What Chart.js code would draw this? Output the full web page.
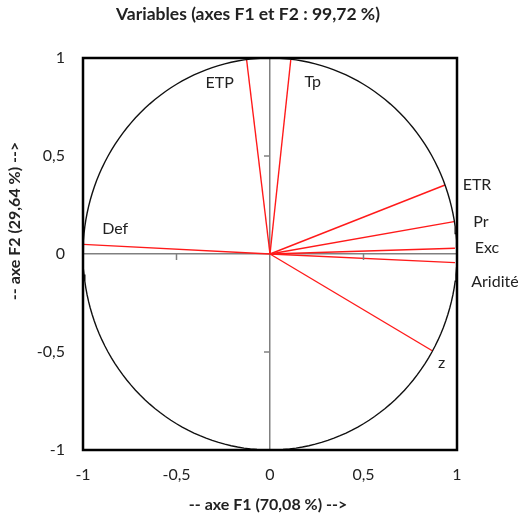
<!DOCTYPE html>
<html>
<head>
<meta charset="utf-8">
<script src="https://cdn.jsdelivr.net/npm/chart.js@4"></script>
<style>
  html, body { margin: 0; padding: 0; background: #fff; }
  #wrap { width: 524px; height: 516px; }
</style>
</head>
<body>
<div id="wrap"><canvas id="cercle"></canvas></div>
<script>
// variables and their coordinates on F1 / F2
var variables = ['ETP', 'Tp', 'ETR', 'Pr', 'Exc', 'Aridité', 'z', 'Def'];
var f1 = [-0.125, 0.111, 0.936, 0.984, 0.989, 0.989, 0.870, -0.999];
var f2 = [0.99, 0.99, 0.352, 0.165, 0.029, -0.044, -0.495, 0.049];
// label offsets (px) from each arrow end
var labelDx = [-27, 22, 32, 27, 32, 40, 9, 32];
var labelDy = [23, 22, 0, 0, 0, 19, 12, -16];
var tickValues = [-1, -0.5, 0, 0.5, 1];

var titre = 'Variables (axes F1 et F2 : 99,72 %)';
var titreX = '-- axe F1 (70,08 %) -->';
var titreY = '-- axe F2 (29,64 %) -->';

var FONT = 'Lato, "Open Sans", sans-serif';

function fmt(v) {
  return String(v).replace('.', ',');
}

// unit circle
var cercle = [];
for (var i = 0; i <= 360; i += 2) {
  var a = i * Math.PI / 180;
  cercle.push({x: Math.cos(a), y: Math.sin(a)});
}

var datasets = [{
  data: cercle,
  borderColor: '#111',
  borderWidth: 1.4,
  pointRadius: 0,
  showLine: true,
  tension: 0
}];
for (var k = 0; k < variables.length; k++) {
  datasets.push({
    data: [{x: 0, y: 0}, {x: f1[k], y: f2[k]}],
    borderColor: '#ff1a1a',
    borderWidth: 1.4,
    pointRadius: 0,
    showLine: true
  });
}

var decor = {
  id: 'decor',
  afterDatasetsDraw: function(chart) {
    var ctx = chart.ctx;
    var xs = chart.scales.x, ys = chart.scales.y;
    var ca = chart.chartArea;
    var x0 = xs.getPixelForValue(0), y0 = ys.getPixelForValue(0);
    ctx.save();
    // small ticks on the zero axes
    ctx.strokeStyle = '#808080';
    ctx.lineWidth = 1.5;
    [-0.5, 0.5].forEach(function(v) {
      var px = xs.getPixelForValue(v);
      ctx.beginPath(); ctx.moveTo(px, y0); ctx.lineTo(px, y0 + 6); ctx.stroke();
      var py = ys.getPixelForValue(v);
      ctx.beginPath(); ctx.moveTo(x0, py); ctx.lineTo(x0 - 6, py); ctx.stroke();
    });
    // frame
    ctx.strokeStyle = '#000';
    ctx.lineWidth = 2.5;
    ctx.strokeRect(ca.left, ca.top, ca.right - ca.left, ca.bottom - ca.top);
    // variable labels
    ctx.fillStyle = '#222';
    ctx.font = '16px ' + FONT;
    ctx.textAlign = 'center';
    ctx.textBaseline = 'middle';
    for (var k = 0; k < variables.length; k++) {
      var px2 = xs.getPixelForValue(f1[k]) + labelDx[k];
      var py2 = ys.getPixelForValue(f2[k]) + labelDy[k];
      ctx.fillText(variables[k], px2, py2);
    }
    // titles
    ctx.font = 'bold 17.5px ' + FONT;
    ctx.fillText(titre, 248, 14);
    ctx.font = 'bold 16px ' + FONT;
    ctx.fillText(titreX, 268, 505);
    ctx.translate(15, 221);
    ctx.rotate(-Math.PI / 2);
    ctx.fillText(titreY, 0, 0);
    ctx.restore();
  }
};

function gridColor(c) {
  return c.tick && c.tick.value === 0 ? '#808080' : 'rgba(0,0,0,0)';
}

new Chart(document.getElementById('cercle'), {
  type: 'scatter',
  data: {datasets: datasets},
  options: {
    responsive: true,
    maintainAspectRatio: false,
    animation: false,
    layout: {padding: {top: 58, right: 67, left: 0, bottom: 0}},
    plugins: {legend: {display: false}, tooltip: {enabled: false}},
    scales: {
      x: {
        type: 'linear', min: -1, max: 1,
        afterBuildTicks: function(s) { s.ticks = tickValues.map(function(v) { return {value: v}; }); },
        afterFit: function(s) { s.height = 66; },
        grid: {color: gridColor, lineWidth: 1.5, drawTicks: false},
        border: {display: false},
        ticks: {padding: 15, color: '#222', font: {family: FONT, size: 16}, callback: fmt, maxRotation: 0}
      },
      y: {
        type: 'linear', min: -1, max: 1,
        afterBuildTicks: function(s) { s.ticks = tickValues.map(function(v) { return {value: v}; }); },
        afterFit: function(s) { s.width = 83; },
        grid: {color: gridColor, lineWidth: 1.5, drawTicks: false},
        border: {display: false},
        ticks: {padding: 18, color: '#222', font: {family: FONT, size: 16}, callback: fmt}
      }
    }
  },
  plugins: [decor]
});
</script>
</body>
</html>
